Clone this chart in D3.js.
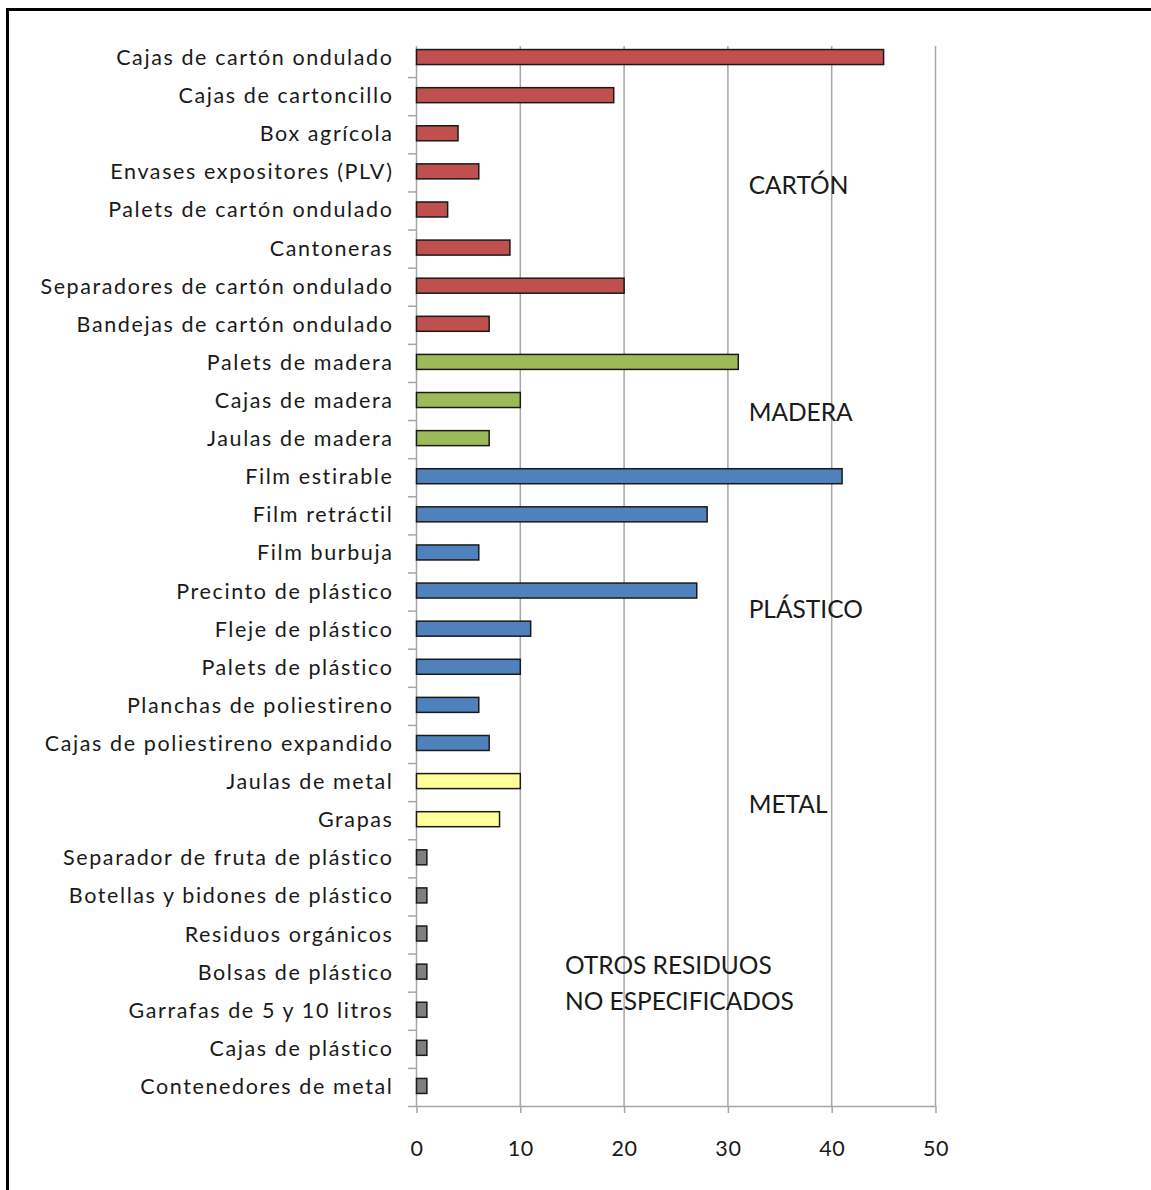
<!DOCTYPE html>
<html><head><meta charset="utf-8">
<script src="https://cdn.jsdelivr.net/npm/d3@7"></script>
<style>html,body{margin:0;padding:0;background:#fff;overflow:hidden}</style>
</head><body>
<script>
const categories = ["Cajas de cartón ondulado","Cajas de cartoncillo","Box agrícola","Envases expositores (PLV)","Palets de cartón ondulado","Cantoneras","Separadores de cartón ondulado","Bandejas de cartón ondulado","Palets de madera","Cajas de madera","Jaulas de madera","Film estirable","Film retráctil","Film burbuja","Precinto de plástico","Fleje de plástico","Palets de plástico","Planchas de poliestireno","Cajas de poliestireno expandido","Jaulas de metal","Grapas","Separador de fruta de plástico","Botellas y bidones de plástico","Residuos orgánicos","Bolsas de plástico","Garrafas de 5 y 10 litros","Cajas de plástico","Contenedores de metal"];
const values = [45,19,4,6,3,9,20,7,31,10,7,41,28,6,27,11,10,6,7,10,8,1,1,1,1,1,1,1];
const groups = ["carton","carton","carton","carton","carton","carton","carton","carton","madera","madera","madera","plastico","plastico","plastico","plastico","plastico","plastico","plastico","plastico","metal","metal","otros","otros","otros","otros","otros","otros","otros"];
const groupColors = {carton:"#C0504D", madera:"#9BBB59", plastico:"#4F81BD", metal:"#FFFF99", otros:"#7F7F7F"};
const xTicks = [0,10,20,30,40,50];
const annotations = [
  {lines:["CARTÓN"], cat:"Envases expositores (PLV)"},
  {lines:["MADERA"], cat:"Cajas de madera"},
  {lines:["PLÁSTICO"], cat:"Precinto de plástico"},
  {lines:["METAL"], cat:"Grapas"},
  {lines:["OTROS RESIDUOS","NO ESPECIFICADOS"], cat:"Bolsas de plástico"}
];
const annotPos = [[32,12],[32,10],[32,16],[32,-17],[14.3,-9]]; // value-units x, px offset y

const W=1151,H=1190;
const svg=d3.select("body").append("svg").attr("width",W).attr("height",H);
const font="Lato, 'Open Sans', sans-serif";

// frame
svg.append("rect").attr("x",7.5).attr("y",9.5).attr("width",W+20).attr("height",H+20)
  .attr("fill","none").attr("stroke","#000").attr("stroke-width",3);

const x=d3.scaleLinear().domain([0,50]).range([416.5,935.5]);
const y=d3.scaleBand().domain(categories).range([39,1106]).padding(0);
const axisTop=46, axisBottom=1106;

// gridlines
svg.append("g").selectAll("line").data(xTicks.slice(1)).join("line")
  .attr("x1",d=>x(d)).attr("x2",d=>x(d)).attr("y1",axisTop).attr("y2",axisBottom)
  .attr("stroke","#a6a6a6").attr("stroke-width",1.5);

// x axis
const xa=svg.append("g").attr("transform",`translate(0,${axisBottom})`)
  .call(d3.axisBottom(x).tickValues(xTicks).tickSize(7).tickPadding(28).tickSizeOuter(0));
xa.select(".domain").attr("stroke","#a6a6a6").attr("stroke-width",1.5).attr("d",`M408,0.5H${x(50)}`);
xa.selectAll(".tick line").attr("stroke","#a6a6a6").attr("stroke-width",1.5);
xa.selectAll(".tick text").attr("font-family",font).attr("font-size",21.5).attr("fill","#1a1a1a").attr("letter-spacing","0.6px");

// y axis line and ticks at band boundaries
svg.append("line").attr("x1",x(0)).attr("x2",x(0)).attr("y1",axisTop).attr("y2",axisBottom)
  .attr("stroke","#a6a6a6").attr("stroke-width",1.5);
svg.append("g").selectAll("line").data(categories.slice(1)).join("line")
  .attr("x1",408).attr("x2",x(0)).attr("y1",d=>y(d)+0.5).attr("y2",d=>y(d)+0.5)
  .attr("stroke","#a6a6a6").attr("stroke-width",1.5);

// labels
svg.append("g").selectAll("text").data(categories).join("text")
  .attr("x",393.5).attr("y",d=>y(d)+y.bandwidth()/2-1).attr("text-anchor","end")
  .attr("dominant-baseline","central").attr("font-family",font).attr("font-size",21.5)
  .attr("letter-spacing","1.6px")
  .attr("fill","#1a1a1a").text(d=>d);

// bars
const bh=15;
svg.append("g").selectAll("rect").data(categories).join("rect")
  .attr("x",x(0)).attr("y",d=>y(d)+y.bandwidth()/2-bh/2-1)
  .attr("width",(d,i)=>x(values[i])-x(0)).attr("height",bh)
  .attr("fill",(d,i)=>groupColors[groups[i]]).attr("stroke","#1a1a1a").attr("stroke-width",1.5);

// annotations
annotations.forEach((a,i)=>{
  const t=svg.append("text").attr("font-family",font).attr("font-size",24.5).attr("fill","#1a1a1a")
    .attr("x",x(annotPos[i][0])).attr("y",y(a.cat)+y.bandwidth()/2+annotPos[i][1]).attr("dominant-baseline","central");
  a.lines.forEach((l,j)=>t.append("tspan").attr("x",x(annotPos[i][0])).attr("dy",j?36:0).text(l));
});
</script>
</body></html>
